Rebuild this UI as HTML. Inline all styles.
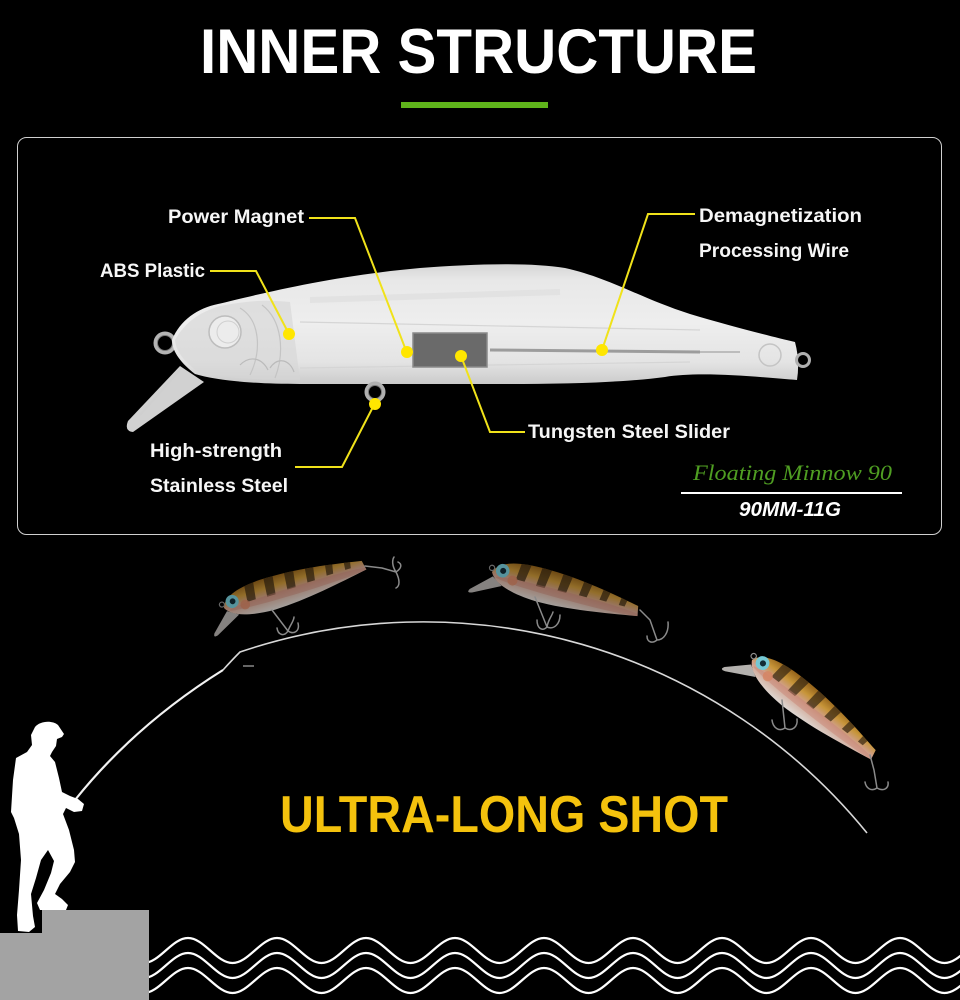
<!DOCTYPE html>
<html><head><meta charset="utf-8">
<style>
html,body{margin:0;padding:0;background:#000;}
body{width:960px;height:1000px;overflow:hidden;}
svg{display:block;}
</style></head>
<body>
<svg width="960" height="1000" viewBox="0 0 960 1000" xmlns="http://www.w3.org/2000/svg">
<defs>
  <linearGradient id="bodyG" gradientUnits="userSpaceOnUse" x1="0" y1="262" x2="0" y2="384">
    <stop offset="0" stop-color="#d2d2d2"/>
    <stop offset="0.15" stop-color="#e8e8e8"/>
    <stop offset="0.5" stop-color="#eeeeee"/>
    <stop offset="0.82" stop-color="#e4e4e4"/>
    <stop offset="1" stop-color="#cbcbcb"/>
  </linearGradient>
  <linearGradient id="lureG" gradientUnits="userSpaceOnUse" x1="0" y1="-17" x2="0" y2="17">
    <stop offset="0" stop-color="#a06a1c"/>
    <stop offset="0.3" stop-color="#d8a23e"/>
    <stop offset="0.55" stop-color="#e2ae98"/>
    <stop offset="1" stop-color="#f1ebe6"/>
  </linearGradient>
  <path id="lb" d="M0 0 C4 -12 22 -17 50 -17 C90 -17 128 -9 150 -5 L152 5 C122 10 84 17 50 17 C22 16 5 10 0 0Z"/>
  <clipPath id="lc" clipPathUnits="userSpaceOnUse"><use href="#lb"/></clipPath>
  <g id="lure">
    <path d="M2 4 L-17 22 Q-20 27 -14 25 L13 11Z" fill="#e6e2de" opacity="0.85"/>
    <use href="#lb" fill="url(#lureG)"/>
    <g clip-path="url(#lc)">
      <path d="M27 -20 l10 0 l-3 21 l-9 0z M48 -20 l10 0 l-3 22 l-9 0z M70 -20 l10 0 l-3 21 l-9 0z M92 -18 l9 0 l-3 18 l-8 0z M113 -16 l8 0 l-3 15 l-7 0z M132 -12 l7 0 l-2 11 l-6 0z" fill="#3b2914" opacity="0.72"/>
      <ellipse cx="80" cy="4" rx="75" ry="4" fill="#d98e7c" opacity="0.45"/>
    </g>
    <circle cx="22" cy="3" r="5" fill="#e8906a" opacity="0.8"/>
    <circle cx="10" cy="-4" r="6.8" fill="#7fd9e6"/>
    <circle cx="10.5" cy="-4" r="3" fill="#14303a"/>
    <circle cx="-1" cy="-4" r="2.6" fill="none" stroke="#999" stroke-width="1.2"/>
  </g>
  <path id="wave" d="M143.5 963 C159.7 963 171.8 938 188 938 S216.3 963 232.5 963 S260.8 938 277 938 S305.3 963 321.5 963 S349.8 938 366 938 S394.3 963 410.5 963 S438.8 938 455 938 S483.3 963 499.5 963 S527.8 938 544 938 S572.3 963 588.5 963 S616.8 938 633 938 S661.3 963 677.5 963 S705.8 938 722 938 S750.3 963 766.5 963 S794.8 938 811 938 S839.3 963 855.5 963 S883.8 938 900 938 S928.3 963 944.5 963 S972.8 938 989 938" fill="none" stroke="#fff" stroke-width="2.2"/>
</defs>

<rect width="960" height="1000" fill="#000"/>

<!-- Title -->
<text x="200" y="73" font-family="'Liberation Sans', sans-serif" font-weight="bold" font-size="63" fill="#fff" textLength="557" lengthAdjust="spacingAndGlyphs">INNER STRUCTURE</text>
<rect x="401" y="102" width="147" height="6" fill="#5fb31b"/>

<!-- Panel -->
<rect x="17.5" y="137.5" width="924" height="397" rx="9" ry="9" fill="none" stroke="#d0d0d0" stroke-width="1"/>

<!-- Transparent lure -->
<g>
  <path d="M180 366 L128 421 Q124 431 133 432 L204 382 Z" fill="#e3e3e3" opacity="0.92"/>
  <path d="M180 370 L140 415" stroke="#cfcfcf" stroke-width="2" fill="none"/>
  <circle cx="165" cy="343" r="9.5" fill="none" stroke="#b4b4b4" stroke-width="4"/>
  <circle cx="165" cy="343" r="7.5" fill="none" stroke="#777" stroke-width="1"/>
  <path d="M172 340 C180 320 198 308 218 304 C260 294 330 276 420 268 C470 264 530 262 565 268 C610 278 640 298 690 314 C730 326 770 336 795 342 Q800 361 797 380 C760 377 700 371 665 377 C620 383 560 384 500 384 L300 384 C250 384 215 380 195 374 C182 364 172 352 172 340 Z" fill="url(#bodyG)"/>
  <path d="M175 340 C185 322 200 312 220 306 C250 300 270 300 290 302 L300 380 C260 380 220 378 198 372 C185 362 176 352 175 340Z" fill="#d6d6d6" opacity="0.6"/>
  <circle cx="225" cy="332" r="16" fill="#ececec" stroke="#bdbdbd" stroke-width="1.5"/>
  <circle cx="228" cy="332" r="11" fill="none" stroke="#d0d0d0" stroke-width="1"/>
  <path d="M240 308 C260 320 262 350 250 375 M262 305 C282 320 285 352 275 378" fill="none" stroke="#c4c4c4" stroke-width="1.2"/>
  <path d="M240 365 C250 355 262 358 268 370 M270 368 C278 356 290 360 294 372" fill="none" stroke="#bbbbbb" stroke-width="1.2"/>
  <path d="M300 322 L700 330 M300 368 L690 362" stroke="#d5d5d5" stroke-width="1.2" fill="none"/>
  <path d="M310 300 L560 292" stroke="#dcdcdc" stroke-width="6" fill="none" opacity="0.6"/>
  <rect x="413" y="333" width="74" height="34" fill="#6a6a6a"/>
  <rect x="413" y="333" width="74" height="34" fill="none" stroke="#8a8a8a" stroke-width="1.5"/>
  <path d="M490 350 L700 352" stroke="#9c9c9c" stroke-width="3" fill="none"/>
  <path d="M700 352 L740 352" stroke="#bcbcbc" stroke-width="2" fill="none"/>
  <circle cx="770" cy="355" r="11" fill="none" stroke="#c4c4c4" stroke-width="1.5"/>
  <circle cx="375" cy="392" r="8.5" fill="none" stroke="#b0b0b0" stroke-width="4"/>
  <circle cx="375" cy="392" r="6.5" fill="none" stroke="#777" stroke-width="1"/>
  <circle cx="803" cy="360" r="6.5" fill="none" stroke="#b0b0b0" stroke-width="3"/>
</g>

<!-- Yellow leaders -->
<g fill="none" stroke="#f0e21a" stroke-width="2">
  <path d="M309 218 H355 L407 353"/>
  <path d="M210 271 H256 L289 334"/>
  <path d="M695 214 H648 L602 350"/>
  <path d="M461 356 L490 432 H525"/>
  <path d="M375 403 L342 467 H295"/>
</g>
<g fill="#ffe600">
  <circle cx="407" cy="352" r="6"/>
  <circle cx="289" cy="334" r="6"/>
  <circle cx="602" cy="350" r="6"/>
  <circle cx="461" cy="356" r="6"/>
  <circle cx="375" cy="404" r="6"/>
</g>

<!-- Labels -->
<g font-family="'Liberation Sans', sans-serif" font-weight="bold" font-size="19.5" fill="#f6f6f6">
  <text x="168" y="223" textLength="136" lengthAdjust="spacingAndGlyphs">Power Magnet</text>
  <text x="100" y="277" textLength="105" lengthAdjust="spacingAndGlyphs">ABS Plastic</text>
  <text x="699" y="222" textLength="163" lengthAdjust="spacingAndGlyphs">Demagnetization</text>
  <text x="699" y="257" textLength="150" lengthAdjust="spacingAndGlyphs">Processing Wire</text>
  <text x="528" y="438" textLength="202" lengthAdjust="spacingAndGlyphs">Tungsten Steel Slider</text>
  <text x="150" y="457" textLength="132" lengthAdjust="spacingAndGlyphs">High-strength</text>
  <text x="150" y="492" textLength="138" lengthAdjust="spacingAndGlyphs">Stainless Steel</text>
</g>
<text x="693" y="480" font-family="'Liberation Serif', serif" font-style="italic" font-size="22" fill="#4f9e22" textLength="199" lengthAdjust="spacingAndGlyphs">Floating Minnow 90</text>
<rect x="681" y="492" width="221" height="2" fill="#fff"/>
<text x="739" y="516" font-family="'Liberation Sans', sans-serif" font-style="italic" font-weight="bold" font-size="20" fill="#fff" textLength="102" lengthAdjust="spacingAndGlyphs">90MM-11G</text>

<!-- Lower: line & rod -->
<path d="M223 670 Q232 660 240 652 A572 572 0 0 1 867 833" fill="none" stroke="#d8d8d8" stroke-width="1.6"/>
<path d="M75 800 Q135 725 223 670" fill="none" stroke="#f2f2f2" stroke-width="2.2"/>
<path d="M243 666 L254 666" stroke="#aaa" stroke-width="1.2"/>

<!-- Lures -->
<g opacity="0.68" transform="translate(224 608) rotate(-17) scale(0.97)"><use href="#lure"/></g>
<g opacity="0.68" transform="translate(492 572) rotate(15)"><use href="#lure"/></g>
<g opacity="0.92" transform="translate(752 660) rotate(38) scale(1.02)"><use href="#lure"/></g>

<!-- Hooks -->
<g fill="none" stroke="#8a8a8a" stroke-width="1.5" stroke-linecap="round">
  <path d="M272 610 L288 631 M288 631 C284 637 278 635 277 628 M288 631 C294 635 300 631 298 623 M288 631 C290 625 294 621 294 617"/>
  <path d="M365 566 L382 568 L396 572 M396 572 C400 580 400 586 396 588 M396 572 C402 568 402 564 398 562 M396 572 C392 566 392 560 394 557"/>
  <path d="M535 597 L547 627 M547 627 C542 632 537 628 537 620 M547 627 C554 630 560 624 560 615 M547 627 C548 620 552 616 553 612"/>
  <path d="M640 610 L650 620 L657 640 M657 640 C652 644 647 642 647 636 M657 640 C664 640 669 632 668 622"/>
  <path d="M782 700 L785 728 M785 728 C779 732 773 728 772 720 M785 728 C792 732 798 727 797 719"/>
  <path d="M870 755 L874 770 L877 788 M877 788 C871 792 866 788 865 782 M877 788 C884 792 889 788 888 782"/>
</g>

<!-- ULTRA-LONG SHOT -->
<text x="280" y="832" font-family="'Liberation Sans', sans-serif" font-weight="bold" font-size="52" fill="#f4c20d" textLength="448" lengthAdjust="spacingAndGlyphs">ULTRA-LONG SHOT</text>

<!-- Waves -->
<use href="#wave"/>
<use href="#wave" transform="translate(0 15)"/>
<use href="#wave" transform="translate(0 30)"/>

<!-- Step -->
<path d="M42 910 H149 V1000 H0 V933 H42 Z" fill="#a3a3a3"/>

<!-- Fisherman -->
<path d="M35 727 C40 721 52 720 58 725 L64 734 L62 737 L57 739 L56 746 L52 752 L50 756 L55 762 L59 778 L62 792 L70 796 L78 799 L84 804 L82 811 L74 812 L66 808 L63 814 L69 830 L74 850 L75 862 L70 872 L60 884 L55 894 L62 899 L68 905 L66 910 L40 910 L37 903 L44 890 L51 873 L54 861 L48 850 L41 860 L36 878 L31 894 L33 916 L35 927 L29 932 L18 931 L17 915 L19 890 L21 860 L19 834 L14 818 L11 812 L13 780 L16 758 L27 752 L32 745 L31 735 Z" fill="#fff"/>
</svg>
</body></html>
